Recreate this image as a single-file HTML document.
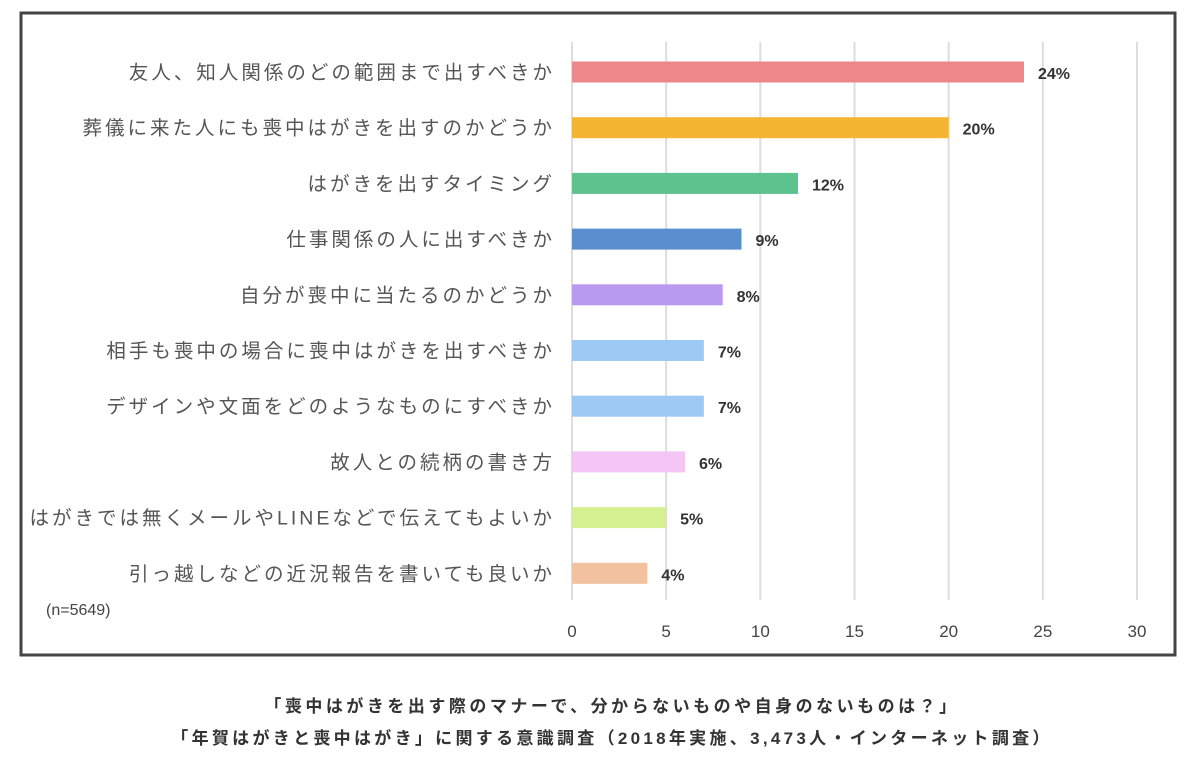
<!DOCTYPE html>
<html><head><meta charset="utf-8">
<style>
html,body{margin:0;padding:0;background:#fff;}
svg{display:block;font-family:"Liberation Sans","Noto Sans CJK JP",sans-serif;}
</style></head>
<body>
<svg id="chart" width="1200" height="759">
<rect x="21" y="13" width="1154" height="642" fill="none" stroke="#444" stroke-width="3"/>
<g id="grid"></g><g id="bars"></g><g id="labels"></g><g id="ticks"></g>
<text x="46" y="615" font-size="16" fill="#444">(n=5649)</text>
<text x="612" y="712" font-size="17" font-weight="bold" letter-spacing="3.5" fill="#333" text-anchor="middle">「喪中はがきを出す際のマナーで、分からないものや自身のないものは？」</text>
<text x="612" y="744" font-size="17" font-weight="bold" letter-spacing="3.3" fill="#333" text-anchor="middle">「年賀はがきと喪中はがき」に関する意識調査（2018年実施、3,473人・インターネット調査）</text>
</svg>
<script>
const categories=["友人、知人関係のどの範囲まで出すべきか","葬儀に来た人にも喪中はがきを出すのかどうか","はがきを出すタイミング","仕事関係の人に出すべきか","自分が喪中に当たるのかどうか","相手も喪中の場合に喪中はがきを出すべきか","デザインや文面をどのようなものにすべきか","故人との続柄の書き方","はがきでは無くメールやLINEなどで伝えてもよいか","引っ越しなどの近況報告を書いても良いか"];
const values=[24,20,12,9,8,7,7,6,5,4];
const valueLabels=["24%","20%","12%","9%","8%","7%","7%","6%","5%","4%"];
const colors=["#ee878a","#f4b630","#5cc28e","#5b8ecf","#b89af0","#9dcaf5","#9dcaf5","#f4c6f6","#d4f090","#f2c1a0"];
const ticks=[0,5,10,15,20,25,30];
const NS="http://www.w3.org/2000/svg";
const x0=572,x1=1137,xmax=30;
const xs=v=>x0+(x1-x0)*v/xmax;
const ys=i=>72+i*55.7;
function mk(tag,attrs,parent,txt){const e=document.createElementNS(NS,tag);for(const k in attrs)e.setAttribute(k,attrs[k]);if(txt!=null)e.textContent=txt;document.getElementById(parent).appendChild(e);return e;}
ticks.forEach(t=>{
  const l=mk('line',{x1:xs(t),x2:xs(t),y1:42,y2:600,stroke:'#ddd','stroke-width':2},'grid');
  
  
  const tx=mk('text',{x:xs(t),y:637,'font-size':17,fill:'#444','text-anchor':'middle'},'ticks',t);
  
  
});
categories.forEach((c,i)=>{
  const y=ys(i);
  const b=mk('rect',{x:x0,y:y-10.5,width:xs(values[i])-x0,height:21,fill:colors[i]},'bars');
  
  
  const v=mk('text',{x:xs(values[i])+14,y:y+7,'font-size':16,'font-weight':'bold',fill:'#333'},'labels',valueLabels[i]);
  
  
  const cl=mk('text',{x:555,y:y+7,'font-size':19.5,'letter-spacing':3,fill:'#555','text-anchor':'end'},'labels',c);
  
  
});
</script>
</body></html>
